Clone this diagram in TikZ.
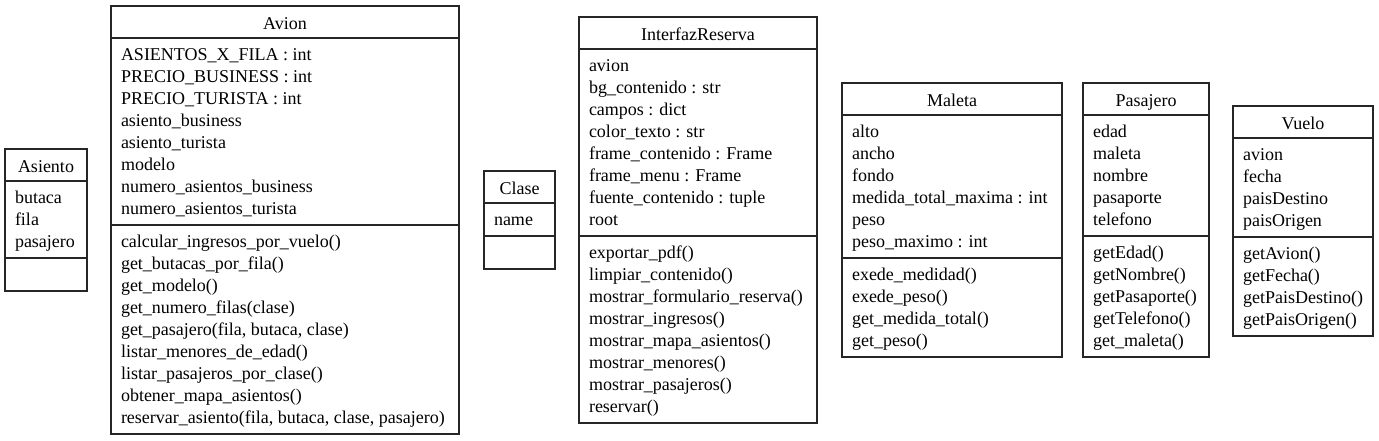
\documentclass[tikz,border=0pt]{standalone}
\usepackage{fontspec}
\setmainfont{Liberation Serif}
\tikzset{
  classbox/.style={draw=black!85, line width=1.2pt, fill=white, inner sep=0pt, outer sep=0pt},
  sepline/.style={draw=black!85, line width=1.2pt},
  umltext/.style={inner sep=0pt, outer sep=0pt, font=\fontsize{18}{22}\selectfont, text=black},
}
\newcommand\umlclass[9]{%
  \pgfmathsetmacro\ya{#4+32}%
  \pgfmathsetmacro\yb{\ya+22*#5+11}%
  \pgfmathsetmacro\yc{\yb+22*#6+11}%
  \pgfmathsetmacro\bw{#3-#2}%
  \pgfmathsetmacro\bh{\yc-#4}%
  \node[classbox, minimum width=\bw pt, minimum height=\bh pt, anchor=north west] (#1) at (#2,-#4) {};
  \draw[sepline] (#1.west |- 0,-\ya) -- (#1.east |- 0,-\ya);
  \draw[sepline] (#1.west |- 0,-\yb) -- (#1.east |- 0,-\yb);
  \node[umltext, anchor=base] (#1-t) at ({(#2+#3)/2},{-(#4+23)}) {#7};
  \foreach \t [count=\i from 0] in {#8}
    \node[umltext, anchor=base west] (#1-a\i) at ({#2+10},{-(\ya+22+22*\i)}) {\t};
  \foreach \t [count=\i from 0] in {#9}
    \node[umltext, anchor=base west] (#1-m\i) at ({#2+10},{-(\yb+22+22*\i)}) {\t};
}
\begin{document}
\begin{tikzpicture}[x=1pt,y=1pt]
\useasboundingbox (0,0) rectangle (1379,-440);
\umlclass{asiento}{5}{87}{149}{3}{1}{Asiento}{butaca,fila,pasajero}{}
\umlclass{avion}{111}{459}{6}{8}{9}{Avion}%
 {ASIENTOS\_X\_FILA : int,PRECIO\_BUSINESS : int,PRECIO\_TURISTA : int,asiento\_business,asiento\_turista,modelo,numero\_asientos\_business,numero\_asientos\_turista}%
 {calcular\_ingresos\_por\_vuelo(),get\_butacas\_por\_fila(),get\_modelo(),get\_numero\_filas(clase),{get\_pasajero(fila, butaca, clase)},listar\_menores\_de\_edad(),listar\_pasajeros\_por\_clase(),obtener\_mapa\_asientos(),{reservar\_asiento(fila, butaca, clase, pasajero)}}
\umlclass{clase}{484}{555}{171}{1}{1}{Clase}{name}{}
\umlclass{interfaz}{579}{817}{17}{8}{8}{InterfazReserva}%
 {avion,bg\_contenido : str,campos : dict,color\_texto : str,frame\_contenido : Frame,frame\_menu : Frame,fuente\_contenido : tuple,root}%
 {exportar\_pdf(),limpiar\_contenido(),mostrar\_formulario\_reserva(),mostrar\_ingresos(),mostrar\_mapa\_asientos(),mostrar\_menores(),mostrar\_pasajeros(),reservar()}
\umlclass{maleta}{842}{1062}{83}{6}{4}{Maleta}%
 {alto,ancho,fondo,medida\_total\_maxima : int,peso,peso\_maximo : int}%
 {exede\_medidad(),exede\_peso(),get\_medida\_total(),get\_peso()}
\umlclass{pasajero}{1083}{1209}{83}{5}{5}{Pasajero}%
 {edad,maleta,nombre,pasaporte,telefono}%
 {getEdad(),getNombre(),getPasaporte(),getTelefono(),get\_maleta()}
\umlclass{vuelo}{1233}{1373}{106}{4}{4}{Vuelo}%
 {avion,fecha,paisDestino,paisOrigen}%
 {getAvion(),getFecha(),getPaisDestino(),getPaisOrigen()}
\end{tikzpicture}
\end{document}
